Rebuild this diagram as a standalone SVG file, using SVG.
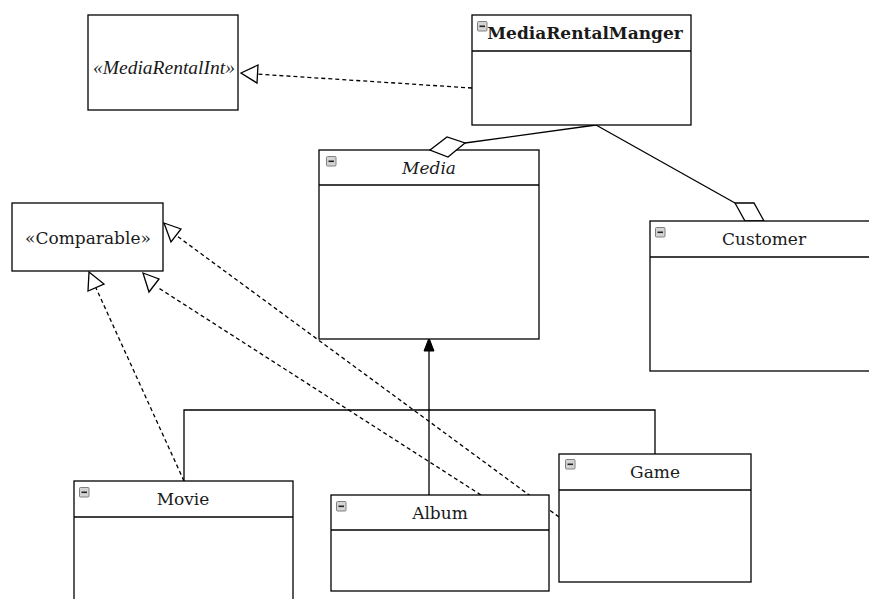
<svg xmlns="http://www.w3.org/2000/svg" width="869" height="599" viewBox="0 0 869 599">
<style>
.box{fill:#fff;stroke:#000;stroke-width:1.3}
.div{stroke:#000;stroke-width:1.3}
.t{font-family:"DejaVu Serif",serif;font-size:17px;fill:#1a1a1a;text-anchor:middle}
.it{font-style:italic}
.b{font-weight:bold}
.ln{fill:none;stroke:#000;stroke-width:1.3}
.dash{fill:none;stroke:#000;stroke-width:1.3;stroke-dasharray:4 3}
.tri{fill:#fff;stroke:#000;stroke-width:1.3}
.dia{fill:#fff;stroke:#000;stroke-width:1.3}
.ico rect{fill:#d4d4d4;stroke:#808080;stroke-width:1}
.ico line{stroke:#222;stroke-width:1.6}
</style>
<defs>
<g id="minus" class="ico"><rect x="0.5" y="0.5" width="9.5" height="9.5" rx="1"/><line x1="2.5" y1="5.3" x2="8" y2="5.3"/></g>
</defs>
<g id="connectors">
<path class="dash" d="M472,88 L256,74"/>
<polygon class="tri" points="241,73 258,65 257,83"/>
<path class="ln" d="M596,125 L465,143"/>
<path class="ln" d="M596,125 L735,203"/>
<path class="ln" d="M184,481 L184,410 L655,410 L655,454"/>
<path class="ln" d="M429,495 L429,350"/>
<polygon points="429,338 434,351 424,351" fill="#000" stroke="#000"/>
<path class="dash" d="M184,481 L96,288"/>
<polygon class="tri" points="89,272 104,284 88,291"/>
<path class="dash" d="M481,495 L157,287"/>
<polygon class="tri" points="143,273 159,279 149,292"/>
<path class="dash" d="M559,517 L177,236"/>
<polygon class="tri" points="164,223 181,229 171,242"/>
</g>
<g id="MediaRentalInt">
<rect class="box" x="88" y="15" width="150" height="95"/>
<text x="164" y="74" font-family="'Liberation Serif',serif" font-style="italic" font-size="19.5" fill="#1a1a1a" text-anchor="middle">«MediaRentalInt»</text>
</g>
<g id="MediaRentalManger">
<rect class="box" x="472" y="15" width="219" height="110"/>
<line class="div" x1="472" y1="51" x2="691" y2="51"/>
<use href="#minus" x="477" y="21"/>
<text class="t b" x="585" y="39">MediaRentalManger</text>
</g>
<g id="Media">
<rect class="box" x="319" y="150" width="220" height="189"/>
<polygon class="dia" points="430,150 447,137 465,143 448,157"/>
<line class="div" x1="319" y1="185" x2="539" y2="185"/>
<use href="#minus" x="326" y="156"/>
<text class="t it" x="429" y="174">Media</text>
</g>
<g id="Comparable">
<rect class="box" x="12" y="203" width="151" height="68"/>
<text class="t" x="88" y="244" font-size="14.4">«Comparable»</text>
</g>
<g id="Customer">
<polygon class="dia" points="735,203 754,203 764,221 745,221"/>
<rect class="box" x="650" y="221" width="230" height="150"/>
<line class="div" x1="650" y1="257" x2="880" y2="257"/>
<use href="#minus" x="655" y="227"/>
<text class="t" x="764" y="245">Customer</text>
</g>
<g id="Movie">
<rect class="box" x="74" y="481" width="219" height="130"/>
<line class="div" x1="74" y1="517" x2="293" y2="517"/>
<use href="#minus" x="79" y="487"/>
<text class="t" x="183" y="505">Movie</text>
</g>
<g id="Album">
<rect class="box" x="331" y="495" width="218" height="96"/>
<line class="div" x1="331" y1="530" x2="549" y2="530"/>
<use href="#minus" x="336" y="501"/>
<text class="t" x="440" y="519">Album</text>
</g>
<g id="Game">
<rect class="box" x="559" y="454" width="192" height="128"/>
<line class="div" x1="559" y1="490" x2="751" y2="490"/>
<use href="#minus" x="565" y="459"/>
<text class="t" x="655" y="478">Game</text>
</g>
</svg>
